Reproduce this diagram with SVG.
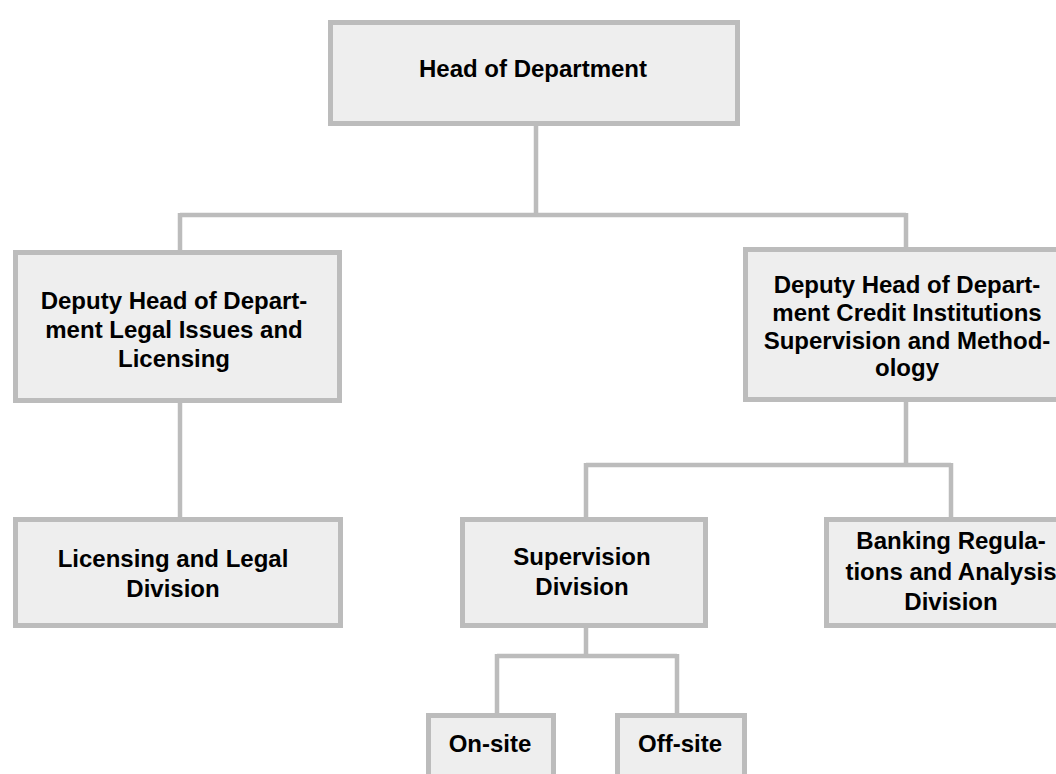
<svg xmlns="http://www.w3.org/2000/svg" width="1056" height="774" viewBox="0 0 1056 774">
<style>
.box{fill:#eeeeee;stroke:#bcbcbc;stroke-width:5}
.lbl{font-family:"Liberation Sans",Arial,sans-serif;font-weight:bold;font-size:24px;fill:#000;text-anchor:middle}
.con{fill:none;stroke:#bcbcbc;stroke-width:4.5}
</style>
<rect width="1056" height="774" fill="#ffffff"/>
<g id="connectors">
<path class="con" d="M536,126V215M180,215H906M180,213V252M906,213V249"/>
<path class="con" d="M180,403V519"/>
<path class="con" d="M906,402V465M586,465H951M586,463V519M951,463V519"/>
<path class="con" d="M586,628V656M497,656H677M497,654V715M677,654V715"/>
</g>
<g id="head">
<rect class="box" x="330.5" y="22.5" width="407" height="101"/>
<text class="lbl" x="533" y="77">Head of Department</text>
</g>
<g id="deputy-legal">
<rect class="box" x="15.5" y="252.5" width="324" height="148"/>
<text class="lbl" x="174" y="309">Deputy Head of Depart-</text>
<text class="lbl" x="174" y="338">ment Legal Issues and</text>
<text class="lbl" x="174" y="367">Licensing</text>
</g>
<g id="deputy-credit">
<rect class="box" x="745.5" y="249.5" width="323" height="150"/>
<text class="lbl" x="907" y="293">Deputy Head of Depart-</text>
<text class="lbl" x="907" y="321">ment Credit Institutions</text>
<text class="lbl" x="907" y="349">Supervision and Method-</text>
<text class="lbl" x="907" y="376">ology</text>
</g>
<g id="licensing">
<rect class="box" x="15.5" y="519.5" width="325" height="106"/>
<text class="lbl" x="173" y="567">Licensing and Legal</text>
<text class="lbl" x="173" y="597">Division</text>
</g>
<g id="supervision">
<rect class="box" x="462.5" y="519.5" width="243" height="106"/>
<text class="lbl" x="582" y="565">Supervision</text>
<text class="lbl" x="582" y="595">Division</text>
</g>
<g id="banking">
<rect class="box" x="826.5" y="519.5" width="249" height="106"/>
<text class="lbl" x="951" y="549">Banking Regula-</text>
<text class="lbl" x="951" y="580">tions and Analysis</text>
<text class="lbl" x="951" y="610">Division</text>
</g>
<g id="onsite">
<rect class="box" x="428.5" y="715.5" width="125" height="80"/>
<text class="lbl" x="490" y="752">On-site</text>
</g>
<g id="offsite">
<rect class="box" x="617.5" y="715.5" width="127" height="80"/>
<text class="lbl" x="680" y="752">Off-site</text>
</g>
</svg>
